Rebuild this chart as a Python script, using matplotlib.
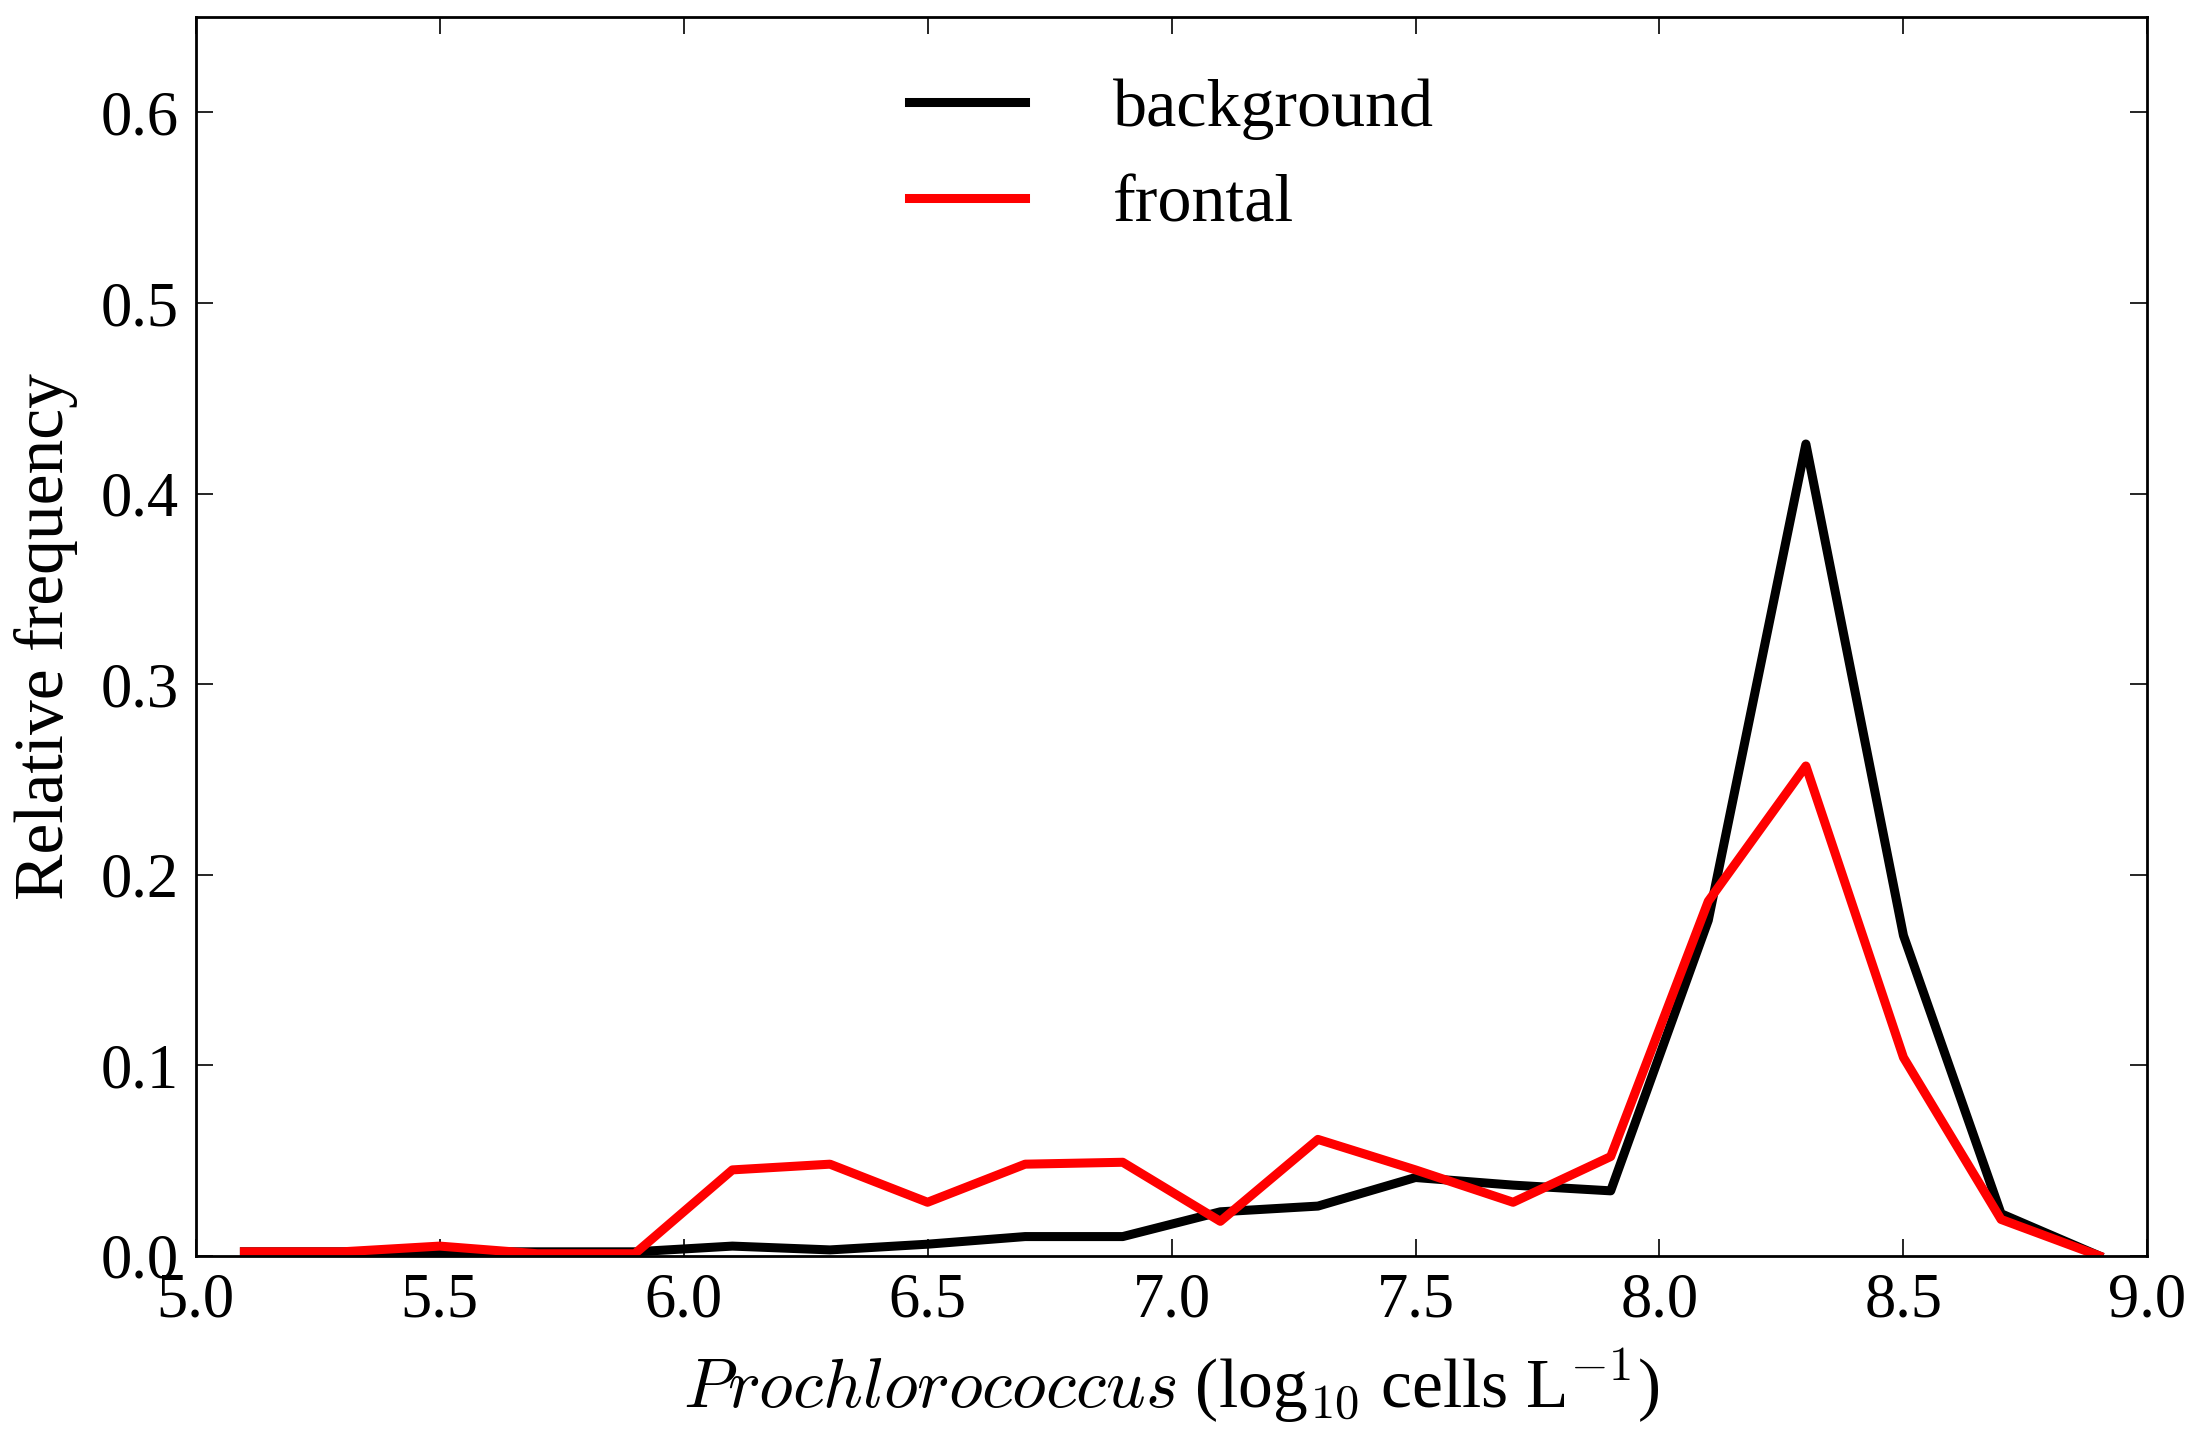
import matplotlib
matplotlib.use("Agg")
import matplotlib.pyplot as plt

# bin centres (log10 cells per litre)
bins = [5.1, 5.3, 5.5, 5.7, 5.9, 6.1, 6.3, 6.5, 6.7, 6.9,
        7.1, 7.3, 7.5, 7.7, 7.9, 8.1, 8.3, 8.5, 8.7, 8.9]

background = [0.002, 0.002, 0.002, 0.002, 0.002, 0.005, 0.003, 0.006, 0.010, 0.010,
              0.023, 0.026, 0.041, 0.037, 0.034, 0.176, 0.426, 0.168, 0.022, 0.0]

frontal = [0.002, 0.002, 0.005, 0.001, 0.001, 0.045, 0.048, 0.028, 0.048, 0.049,
           0.018, 0.061, 0.045, 0.028, 0.052, 0.186, 0.257, 0.104, 0.019, 0.0]

plt.rcParams['font.family'] = ['Liberation Serif', 'DejaVu Serif']
plt.rcParams['mathtext.fontset'] = 'cm'

fig = plt.figure(figsize=(21.98, 14.35), dpi=100)
ax = fig.add_axes([0.089, 0.125, 0.888, 0.863])

ax.plot(bins, background, color='black', lw=6.5, label='background')
ax.plot(bins, frontal, color='red', lw=6.5, label='frontal')

ax.set_xlim(5.0, 9.0)
ax.set_ylim(0, 0.65)
ax.set_xticks([5.0, 5.5, 6.0, 6.5, 7.0, 7.5, 8.0, 8.5, 9.0])
ax.set_yticks([0.0, 0.1, 0.2, 0.3, 0.4, 0.5, 0.6])
ax.tick_params(direction='in', top=True, right=True, length=12, width=1.2,
               labelsize=45, pad=12)
for s in ax.spines.values():
    s.set_linewidth(2)

ax.set_xlabel(r'$Prochlorococcus$ (log$_{10}$ cells L$^{-1}$)', fontsize=50, labelpad=12)
ax.set_ylabel('Relative frequency', fontsize=50, labelpad=16)

ax.legend(loc='upper center', frameon=False, fontsize=49, handlelength=1.7,
          handletextpad=1.3, labelspacing=0.5, bbox_to_anchor=(0.5, 1.0))

fig.savefig('out.png', dpi=100)
